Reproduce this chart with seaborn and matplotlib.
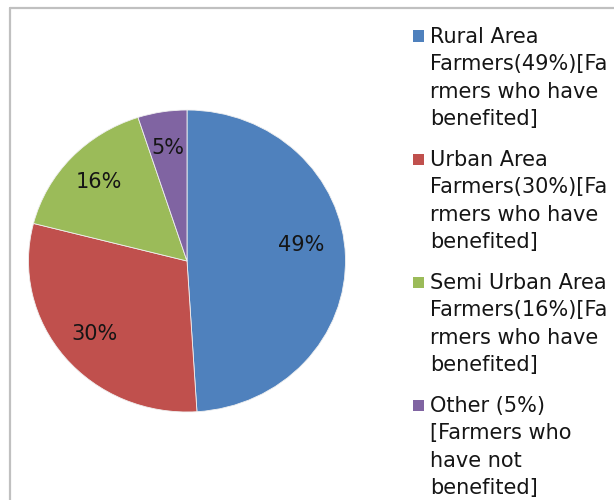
import matplotlib
matplotlib.use("Agg")
import matplotlib.pyplot as plt
import seaborn as sns
from matplotlib.lines import Line2D
from matplotlib.patches import Rectangle

sns.set_theme(style="white")
plt.rcParams["font.family"] = ["DejaVu Sans"]

# data
categories = ["Rural Area", "Urban Area", "Semi Urban Area", "Other"]
shares = [49, 30, 16, 5]
colors = ["#4F81BD", "#C0504D", "#9BBB59", "#8064A2"]
legend_lines = [
    ["Rural Area", "Farmers(49%)[Fa", "rmers who have", "benefited]"],
    ["Urban Area", "Farmers(30%)[Fa", "rmers who have", "benefited]"],
    ["Semi Urban Area", "Farmers(16%)[Fa", "rmers who have", "benefited]"],
    ["Other (5%)", "[Farmers who", "have not", "benefited]"],
]

W, H = 614, 500
fig = plt.figure(figsize=(W / 100, H / 100), dpi=100)
fig.patch.set_facecolor("white")


def fx(x):
    return x / W


def fy(y):
    return 1 - y / H


# outer frame (runs off the right and bottom edge)
fig.add_artist(Line2D([fx(10), 1.01], [fy(8), fy(8)], transform=fig.transFigure,
                      color="#c0c0c0", lw=1.6))
fig.add_artist(Line2D([fx(10), fx(10)], [fy(8), -0.01], transform=fig.transFigure,
                      color="#c0c0c0", lw=1.6))

# pie (slightly stretched horizontally like the source image)
ax = fig.add_axes([fx(28.5), fy(412), fx(317), 302 / H])
wedges, texts, autotexts = ax.pie(
    shares,
    colors=colors,
    startangle=90,
    counterclock=False,
    autopct=lambda p: f"{p:.0f}%",
    pctdistance=0.76,
    wedgeprops={"edgecolor": "#f0f0f0", "linewidth": 0.6},
    textprops={"fontsize": 15, "color": "#151515"},
)
# the big slice label sits a little higher and further in
x0, y0 = autotexts[0].get_position()
autotexts[0].set_position((x0 * 0.95, y0 + 0.085))
ax.set_aspect("auto")
ax.set_xlim(-1, 1)
ax.set_ylim(-1, 1)
ax.axis("off")

# legend drawn by hand so the swatch lines up with the first text line
first_baseline = 43
entry_step = 123
line_step = 27.3
for i, (lines, color) in enumerate(zip(legend_lines, colors)):
    base = first_baseline + entry_step * i
    fig.add_artist(Rectangle((fx(412.5), fy(base - 1.5)), 11 / W, 11 / H,
                             transform=fig.transFigure, facecolor=color,
                             edgecolor="none"))
    for j, txt in enumerate(lines):
        fig.text(fx(430), fy(base + line_step * j), txt, fontsize=15,
                 color="#151515", ha="left", va="baseline")

fig.savefig("out.png", dpi=100, facecolor="white")
